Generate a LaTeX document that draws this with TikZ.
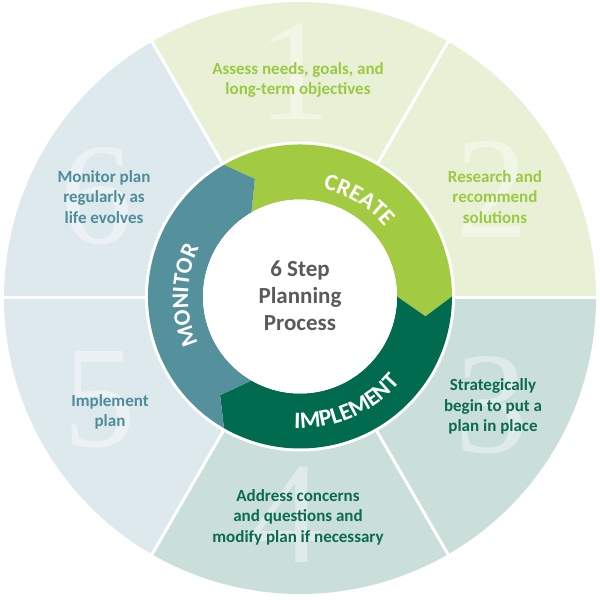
\documentclass[tikz,border=0pt]{standalone}
\usepackage{fontspec}
\setmainfont{Carlito}
\newfontfamily\numfont{Liberation Serif}
\usetikzlibrary{decorations.text,calc}
\definecolor{secA}{HTML}{E8F1D6}
\definecolor{secB}{HTML}{CADFD9}
\definecolor{secC}{HTML}{DEE9EE}
\definecolor{createc}{HTML}{A2CB41}
\definecolor{implc}{HTML}{006B4F}
\definecolor{monc}{HTML}{54919D}
\definecolor{txtA}{HTML}{9DC843}
\definecolor{txtB}{HTML}{0B6B50}
\definecolor{txtC}{HTML}{4E8D99}
\definecolor{ctrtxt}{HTML}{5A5A5A}
\newcommand\ringfont{\color{white}\bfseries\fontsize{23.5}{23.5}\selectfont}
\tikzset{
  sectxt/.style={font=\bfseries\fontsize{17}{20.5}\selectfont, align=center, inner sep=0pt},
  bignum/.style={font=\numfont\fontsize{145}{145}\selectfont, text=white, text opacity=0.4, inner sep=0pt},
  sepline/.style={white, line width=3pt},
  ringlabel/.style={decorate, decoration={text along path, text align=center, text={|\ringfont|#1}}}
}
\begin{document}
\begin{tikzpicture}[x=1pt,y=1pt]
\useasboundingbox (0,0) rectangle (600,600);
\coordinate (C) at (300,302);
\coordinate (O) at (300,303.5);
% outer sectors
\fill[secA] (C) -- ++(60:296) arc[start angle=60,end angle=120,radius=296] -- cycle;
\fill[secA] (C) -- ++(0:296) arc[start angle=0,end angle=60,radius=296] -- cycle;
\fill[secB] (C) -- ++(-60:296) arc[start angle=-60,end angle=0,radius=296] -- cycle;
\fill[secB] (C) -- ++(-120:296) arc[start angle=-120,end angle=-60,radius=296] -- cycle;
\fill[secC] (C) -- ++(180:296) arc[start angle=180,end angle=240,radius=296] -- cycle;
\fill[secC] (C) -- ++(120:296) arc[start angle=120,end angle=180,radius=296] -- cycle;
\foreach \a in {0,60,...,300} { \draw[sepline] (C) -- ++(\a:300); }
% big numbers
\node[bignum] (n1) at (295,528) {1};
\node[bignum] (n2) at (492,410) {2};
\node[bignum] (n3) at (492,195) {3};
\node[bignum] (n4) at (287,85) {4};
\node[bignum] (n5) at (100,200) {5};
\node[bignum] (n6) at (97,404) {6};
% sector texts
\node[sectxt, text=txtA] (t1) at (298,520) {Assess needs, goals, and\\long-term objectives};
\node[sectxt, text=txtA] (t2) at (495,403) {Research and\\recommend\\solutions};
\node[sectxt, text=txtB] (t3) at (493,193.5) {Strategically\\begin to put a\\plan in place};
\node[sectxt, text=txtB] (t4) at (298,83) {Address concerns\\and questions and\\modify plan if necessary};
\node[sectxt, text=txtC] (t5) at (110,188) {Implement\\plan};
\node[sectxt, text=txtC] (t6) at (104,403) {Monitor plan\\regularly as\\life evolves};
% ring
\fill[white] (O) circle[radius=155];
\fill[createc] ($(O)+(120:152)$) arc[start angle=120,end angle=0,radius=152]
  -- ($(O)+(-9:127)$) -- ($(O)+(0:97)$) arc[start angle=0,end angle=120,radius=97]
  -- ($(O)+(111:126)$) -- cycle;
\fill[implc] ($(O)+(0:152)$) arc[start angle=0,end angle=-120,radius=152]
  -- ($(O)+(-129:127)$) -- ($(O)+(-120:97)$) arc[start angle=-120,end angle=0,radius=97]
  -- ($(O)+(-9:127)$) -- cycle;
\fill[monc] ($(O)+(240:152)$) arc[start angle=240,end angle=120,radius=152]
  -- ($(O)+(111:126)$) -- ($(O)+(120:97)$) arc[start angle=120,end angle=240,radius=97]
  -- ($(O)+(231:127)$) -- cycle;
\node[circle, fill=white, minimum size=194pt, inner sep=0pt] (hub) at (O) {};
\node[font=\bfseries\fontsize{23}{27}\selectfont, text=ctrtxt, align=center] (ctr) at (300,304) {6 Step\\Planning\\Process};
% ring labels
\path[ringlabel=CREATE] ($(O)+(95:110)$) arc[start angle=95,end angle=22,radius=110];
\path[ringlabel=IMPLEMENT] ($(O)+(-110:132)$) arc[start angle=-110,end angle=-23,radius=132];
\path[ringlabel=MONITOR] ($(O)+(215:112)$) arc[start angle=215,end angle=144,radius=112];
\end{tikzpicture}
\end{document}
